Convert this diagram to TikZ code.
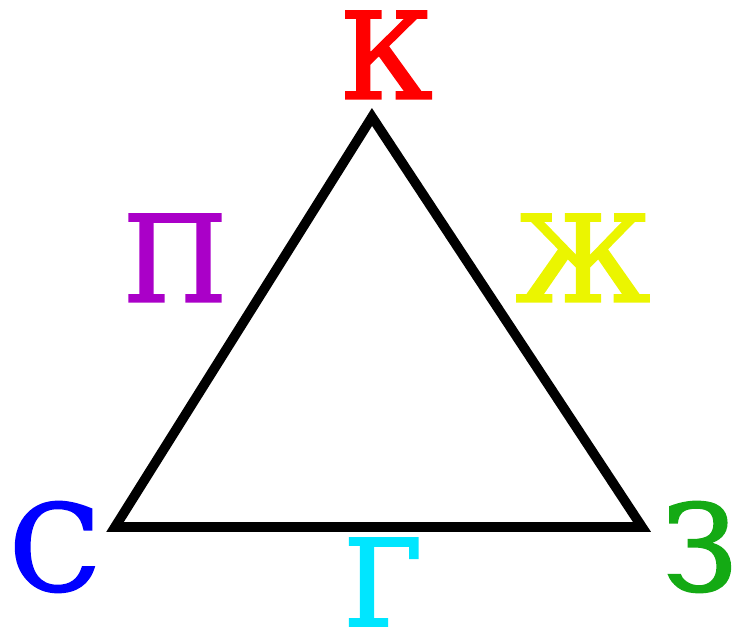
\documentclass[tikz,border=0pt]{standalone}
\usepackage{fontspec}
\setmainfont[FakeBold=2]{DejaVu Serif}
\usepackage{tikz}
\usetikzlibrary{calc, positioning}
\usepackage{xcolor}
\definecolor{vertK}{RGB}{255, 0, 0}
\definecolor{vertS}{RGB}{0, 0, 255}
\definecolor{vertZ}{RGB}{20, 170, 20}
\definecolor{sideP}{RGB}{170, 0, 200}
\definecolor{sideZh}{RGB}{235, 245, 0}
\definecolor{sideG}{RGB}{0, 230, 255}

\begin{document}
\begin{tikzpicture}[
  every node/.style={inner sep=0pt, font=\fontsize{68}{68}\selectfont},
  edge/.style={line width=5.5pt}
]
  \useasboundingbox (0,0) rectangle (14.72,12.82);

  % --- Triangle corners ---
  \coordinate (k) at (7.44,10.48);
  \coordinate (s) at (2.30,2.28);
  \coordinate (z) at (12.84,2.28);
  \draw[edge] (k) -- (z) -- (s) -- cycle;

  % --- Vertex letters ---
  \node[text=vertK] (lk) at (7.72,11.72) {К};
  \node[text=vertS] (ls) at (1.10,1.88)  {С};
  \node[text=vertZ] (lz) at (14.00,1.88) {З};

  % --- Side letters ---
  \node[text=sideP]  (lp)  at (3.50,7.66)  {П};
  \node[text=sideZh] (lzh) at (11.66,7.66) {Ж};
  \node[text=sideG]  (lg)  at (7.66,1.18)  {Г};
\end{tikzpicture}
\end{document}
